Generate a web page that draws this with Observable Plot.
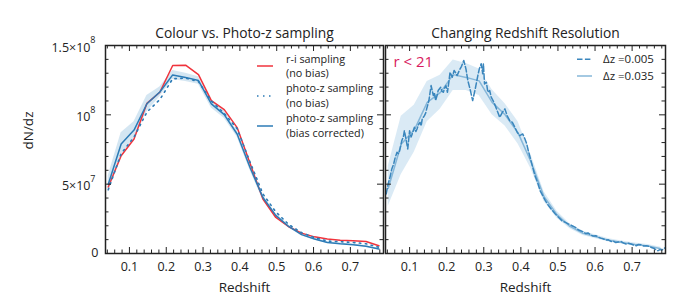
<!DOCTYPE html>
<html><head><meta charset="utf-8">
<script src="https://cdn.jsdelivr.net/npm/d3@7"></script>
<script src="https://cdn.jsdelivr.net/npm/@observablehq/plot@0.6"></script>
<style>
body{margin:0;background:#fff;}
#wrap{display:flex;width:700px;height:300px;}
#wrap svg{overflow:visible;display:block;}
</style></head><body><div id="wrap"></div>
<script>
// ---------- data (values in units of 1e6) ----------
const UNIT = 1e6;
const zBins = [0.0425,0.0775,0.1125,0.1475,0.1825,0.2175,0.2525,0.2875,0.3225,0.3575,0.3925,0.4275,0.4625,0.4975,0.5325,0.5675,0.6025,0.6375,0.6725,0.7075,0.7425,0.7775];
const riNoBias = [48,70.5,82.6,108.3,116.3,135.6,135.8,129,110.3,103.8,90.8,65,39.3,26,19.3,14.7,12,10.4,9.6,9.2,8.7,5.6];
const pzNoBias = [46,72,84,102,111,126,126.5,124,110,101,90,66,43,30,21,15,11.5,9,8.5,8,7,4.5];
const pzCorr   = [50,79,89,108,116.5,128.8,127,124.7,107.9,100.2,86.2,62,40.4,27.5,19.5,13.6,10.5,8,7,6.3,5.2,3.2];
const pzCorrLo = [44,71,83,102,113,125.5,124,122,105,97.5,84,60,38.5,26.3,18.5,12.8,9.8,7.4,6.4,5.7,4.6,2.6];
const pzCorrHi = [56,87,95,114,120,132,130,127.5,110.5,103,88.5,64,42.3,28.7,20.5,14.4,11.2,8.6,7.6,6.9,5.8,3.8];

const coarseVals = [47,79,89,109,116,129,127,124.5,109,100,87,66,41,28,19.5,14.5,12,9.5,8,6.5,5.5,3.5];
const coarseLo   = [34,57,73,95,104,117.5,117.5,114,100,92,79,61,37.5,25.5,17.8,13,10.7,8.3,6.9,5.5,4.5,2.5];
const coarseHi   = [63,99,107,124,128.5,139.5,137,133,118,108,95,71,44.5,30.5,21.2,16,13.3,10.7,9.1,7.5,6.5,4.5];

const zFine = [0.037,0.042,0.048,0.052,0.057,0.061,0.066,0.070,0.073,0.079,0.083,0.086,0.091,0.095,0.100,0.104,0.107,0.113,0.117,0.120,0.124,0.128,0.131,0.134,0.140,0.143,0.146,0.152,0.158,0.164,0.167,0.170,0.174,0.177,0.184,0.187,0.191,0.194,0.198,0.202,0.206,0.209,0.215,0.220,0.225,0.228,0.234,0.240,0.246,0.252,0.257,0.264,0.270,0.277,0.284,0.288,0.293,0.297,0.299,0.302,0.307,0.311,0.316,0.320,0.325,0.329,0.336,0.343,0.350,0.357,0.363,0.370,0.377,0.384,0.390,0.397,0.405,0.411,0.416,0.420,0.425,0.432,0.438,0.445,0.452,0.459,0.466,0.475,0.484,0.493,0.502,0.511,0.520,0.529,0.538,0.547,0.556,0.561,0.568,0.575,0.581,0.588,0.595,0.602,0.609,0.615,0.622,0.629,0.636,0.643,0.650,0.656,0.663,0.670,0.677,0.684,0.690,0.697,0.704,0.711,0.717,0.724,0.731,0.738,0.745,0.752,0.760,0.766,0.770,0.775,0.780,0.784,0.790];
const fineVals = [43,50,56,61,64.5,69,73,72,74,81.4,84,88.6,81.4,75.4,88.6,84,86.2,91,88,89.8,93,94.6,92,97,99.4,101,104.3,110.3,121.1,113.9,116,110.3,114,117.5,119.9,117,116.3,119,121.1,116.3,124,130.7,127.1,132,130,128.3,132,135,139.2,133,124.7,117.5,110.3,118.7,128.3,133.2,136.8,129.6,136.8,122.3,123.5,116.3,117.5,112.7,110.3,107.9,103.1,98.2,101.8,104.3,99.4,95.8,94.6,91,87.4,85,86.2,82.6,79,74.2,69.3,62.1,56.1,51.3,45.3,41.7,38.1,34.4,31.3,28.5,26,23.6,22.4,21.2,20,18.8,16.9,16.4,15.6,14.4,14.8,13.5,12.6,12.8,11.9,11.1,10.6,9.7,9.9,8.7,8.9,7.9,8.3,8.7,7.5,6.8,7.4,6.8,6.1,5.6,6.5,6.3,5.4,5.6,5.2,4.3,3.6,2.2,2,2.8,2.5,3.2,4.3];

// ---------- ticks & labels ----------
const xMajor = [0.1,0.2,0.3,0.4,0.5,0.6,0.7];
const xMinor = [0.04,0.06,0.08,0.12,0.14,0.16,0.18,0.22,0.24,0.26,0.28,0.32,0.34,0.36,0.38,0.42,0.44,0.46,0.48,0.52,0.54,0.56,0.58,0.62,0.64,0.66,0.68,0.72,0.74,0.76,0.78];
const yMajor = [0,5e7,1e8,1.5e8];
const yMinor = [1e7,2e7,3e7,4e7,6e7,7e7,8e7,9e7,1.1e8,1.2e8,1.3e8,1.4e8];
const yTickBase = ["0","5×10","10","1.5×10"];
const yTickExp  = ["","7","8","8"];

const titleLeft = "Colour vs. Photo-z sampling";
const titleRight = "Changing Redshift Resolution";
const xLabel = "Redshift";
const yLabel = "dN/dz";
const cutLabel = "r < 21";

// ---------- styling ----------
const FONT = "'Open Sans', sans-serif";
const INK = "#222";
const RED = "#f0333c";
const BLUE = "#2c7bb6";
const BLUE_DASH = "#3a86bd";
const BLUE_LIGHT = "#86b7d9";
const H = 300, MT = 45, MB = 47;
const innerH = H - MT - MB;
const X_DOMAIN = [0.035, 0.79];
const Y_DOMAIN = [0, 1.5e8];

const binRows = zBins.map((z,i)=>({z, ri: riNoBias[i]*UNIT, pzn: pzNoBias[i]*UNIT, pzc: pzCorr[i]*UNIT, lo: pzCorrLo[i]*UNIT, hi: pzCorrHi[i]*UNIT,
  cv: coarseVals[i]*UNIT, clo: coarseLo[i]*UNIT, chi: coarseHi[i]*UNIT}));
const fineRows = zFine.map((z,i)=>({z, v: fineVals[i]*UNIT}));
const yTickRows = yMajor.map((v,i)=>({v, base: yTickBase[i], exp: yTickExp[i]}));

function tickMarks(innerW){
  const s = {stroke: INK, strokeWidth: 1};
  return [
    Plot.ruleX(xMinor, {x: d=>d, insetTop: innerH-3.5, ...s}),
    Plot.ruleX(xMinor, {x: d=>d, insetBottom: innerH-3.5, ...s}),
    Plot.ruleX(xMajor, {x: d=>d, insetTop: innerH-6, ...s}),
    Plot.ruleX(xMajor, {x: d=>d, insetBottom: innerH-6, ...s}),
    Plot.ruleY(yMinor, {y: d=>d, insetRight: innerW-3.5, ...s}),
    Plot.ruleY(yMinor, {y: d=>d, insetLeft: innerW-3.5, ...s}),
    Plot.ruleY(yMajor, {y: d=>d, insetRight: innerW-6, ...s}),
    Plot.ruleY(yMajor, {y: d=>d, insetLeft: innerW-6, ...s}),
  ];
}
function common(title){
  return [
    Plot.frame({stroke: INK, strokeWidth: 1.5}),
    Plot.text(xMajor, {x: d=>d, text: d3.format(".1f"), frameAnchor: "bottom", lineAnchor: "middle", dy: 13, fontSize: 12.5, fill: INK}),
    Plot.text([title], {frameAnchor: "top", lineAnchor: "middle", dy: -12, fontSize: 13.8, fill: INK}),
    Plot.text([xLabel], {frameAnchor: "bottom", lineAnchor: "middle", dy: 34, fontSize: 13.5, fill: INK}),
  ];
}

// ---------- left panel ----------
const LW = 384, LML = 105, LMR = 1;
const left = Plot.plot({
  width: LW, height: H, marginLeft: LML, marginRight: LMR, marginTop: MT, marginBottom: MB,
  style: {fontFamily: FONT, background: "transparent"},
  x: {domain: X_DOMAIN, axis: null},
  y: {domain: Y_DOMAIN, axis: null},
  marks: [
    Plot.areaY(binRows, {x: "z", y1: "lo", y2: "hi", fill: "#a9cde6", fillOpacity: 0.5, clip: true}),
    Plot.line(binRows, {x: "z", y: "ri", stroke: RED, strokeWidth: 1.5, clip: true}),
    Plot.line(binRows, {x: "z", y: "pzn", stroke: BLUE, strokeWidth: 1.6, strokeDasharray: "1.5,4.5", clip: true}),
    Plot.line(binRows, {x: "z", y: "pzc", stroke: BLUE, strokeWidth: 1.5, clip: true}),
    ...tickMarks(LW-LML-LMR),
    ...common(titleLeft),
    Plot.text(yTickRows.filter(d=>!d.exp), {y: "v", text: "base", frameAnchor: "left", textAnchor: "end", lineAnchor: "middle", dx: -7, dy: -1, fontSize: 12.5, fill: INK}),
    Plot.text(yTickRows.filter(d=>d.exp), {y: "v", text: "base", frameAnchor: "left", textAnchor: "end", lineAnchor: "middle", dx: -15, dy: 2, fontSize: 12.5, fill: INK}),
    Plot.text(yTickRows.filter(d=>d.exp), {y: "v", text: "exp", frameAnchor: "left", textAnchor: "end", lineAnchor: "middle", dx: -10, dy: -5, fontSize: 9, fill: INK}),
    Plot.text([yLabel], {frameAnchor: "left", lineAnchor: "middle", rotate: -90, dx: -77, fontSize: 13.5, fill: INK}),
  ]
});

// ---------- right panel ----------
const RW = 316, RML = 1, RMR = 35;
const right = Plot.plot({
  width: RW, height: H, marginLeft: RML, marginRight: RMR, marginTop: MT, marginBottom: MB,
  style: {fontFamily: FONT, background: "transparent"},
  x: {domain: X_DOMAIN, axis: null},
  y: {domain: Y_DOMAIN, axis: null},
  marks: [
    Plot.areaY(binRows, {x: "z", y1: "clo", y2: "chi", fill: "#b5d5eb", fillOpacity: 0.5, clip: true}),
    Plot.line(binRows, {x: "z", y: "cv", stroke: BLUE_LIGHT, strokeWidth: 1.5, clip: true}),
    Plot.line(fineRows, {x: "z", y: "v", stroke: BLUE_DASH, strokeWidth: 1.5, strokeDasharray: "5.5,2.4", clip: true}),
    ...tickMarks(RW-RML-RMR),
    ...common(titleRight),
    Plot.text([cutLabel], {frameAnchor: "top-left", lineAnchor: "middle", textAnchor: "start", dx: 8, dy: 16.5, fontSize: 15, fill: "#d81b60"}),
  ]
});

const wrap = document.getElementById("wrap");
wrap.appendChild(left);
wrap.appendChild(right);

// ---------- legends (multi-line labels as one text with tspans) ----------
function legend(svg, items, fontSize, lineGap){
  const g = d3.select(svg).append("g").attr("font-family", FONT).attr("font-size", fontSize)
    .attr("fill", INK).attr("text-anchor", "start");
  for (const it of items){
    g.append("line").attr("x1", it.x1).attr("x2", it.x2).attr("y1", it.y).attr("y2", it.y)
      .attr("stroke", it.stroke).attr("stroke-width", it.w || 1.5).attr("stroke-dasharray", it.dash || null);
    const t = g.append("text").attr("x", it.tx).attr("y", it.ty).attr("text-anchor", "start");
    it.lines.forEach((s, j) => {
      t.append("tspan").attr("x", it.tx).attr("dy", j === 0 ? "0.35em" : lineGap).text(s);
    });
  }
}
legend(left, [
  {x1: 257, x2: 273, y: 66, stroke: RED, tx: 286, ty: 58.8, lines: ["r-i sampling", "(no bias)"]},
  {x1: 257, x2: 273, y: 96, stroke: BLUE, w: 1.6, dash: "1.5,4.5", tx: 286, ty: 88.6, lines: ["photo-z sampling", "(no bias)"]},
  {x1: 257, x2: 273, y: 126, stroke: BLUE, tx: 286, ty: 118.6, lines: ["photo-z sampling", "(bias corrected)"]},
], 10.8, 14.8);
legend(right, [
  {x1: 193, x2: 208, y: 59.3, stroke: BLUE_DASH, dash: "5.5,2.4", tx: 219, ty: 59.3, lines: ["Δz =0.005"]},
  {x1: 193, x2: 208, y: 76, stroke: BLUE_LIGHT, tx: 219, ty: 76, lines: ["Δz =0.035"]},
], 11.5, 12);
</script></body></html>
